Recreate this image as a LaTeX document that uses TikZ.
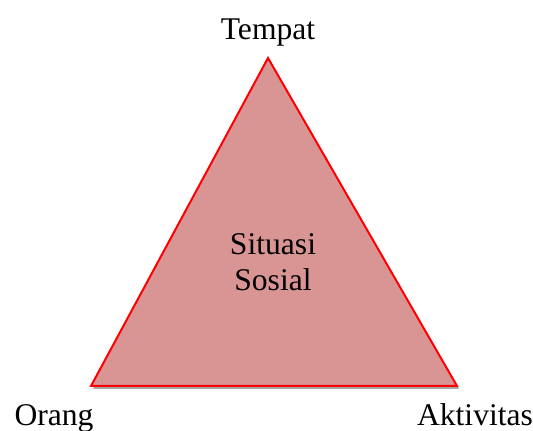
\documentclass[tikz,border=0pt]{standalone}
\usepackage{fontspec}
\setmainfont{Liberation Serif}
\usetikzlibrary{positioning}
\definecolor{segitiga}{RGB}{217,149,148}
\tikzset{
  sudut/.style={font=\fontsize{15.8}{19}\selectfont, anchor=base},
  segitigabox/.style={draw=red, line width=1pt, fill=segitiga, line join=miter},
  bayangan/.style={fill=black!35, draw=none}
}

\begin{document}
\begin{tikzpicture}[x=0.5pt, y=0.5pt]
    \useasboundingbox (0,0) rectangle (533,431);
    \coordinate (puncak) at (268,373);
    \coordinate (kiri) at (91,45);
    \coordinate (kanan) at (457,45);
    % shadow under the triangle
    \fill[bayangan] ([shift={(2,-3)}]puncak) -- ([shift={(2,-3)}]kiri) -- ([shift={(2,-3)}]kanan) -- cycle;
    \draw[segitigabox] (puncak) -- (kiri) -- (kanan) -- cycle;
    \node[sudut] (tempat) at (268,391) {Tempat};
    \node[sudut] (orang) at (54,5) {Orang};
    \node[sudut] (aktivitas) at (475,5) {Aktivitas};
    \node[font=\fontsize{15.8}{18}\selectfont, align=center] (situasi) at (273,169) {Situasi\\Sosial};
  \end{tikzpicture}
\end{document}
